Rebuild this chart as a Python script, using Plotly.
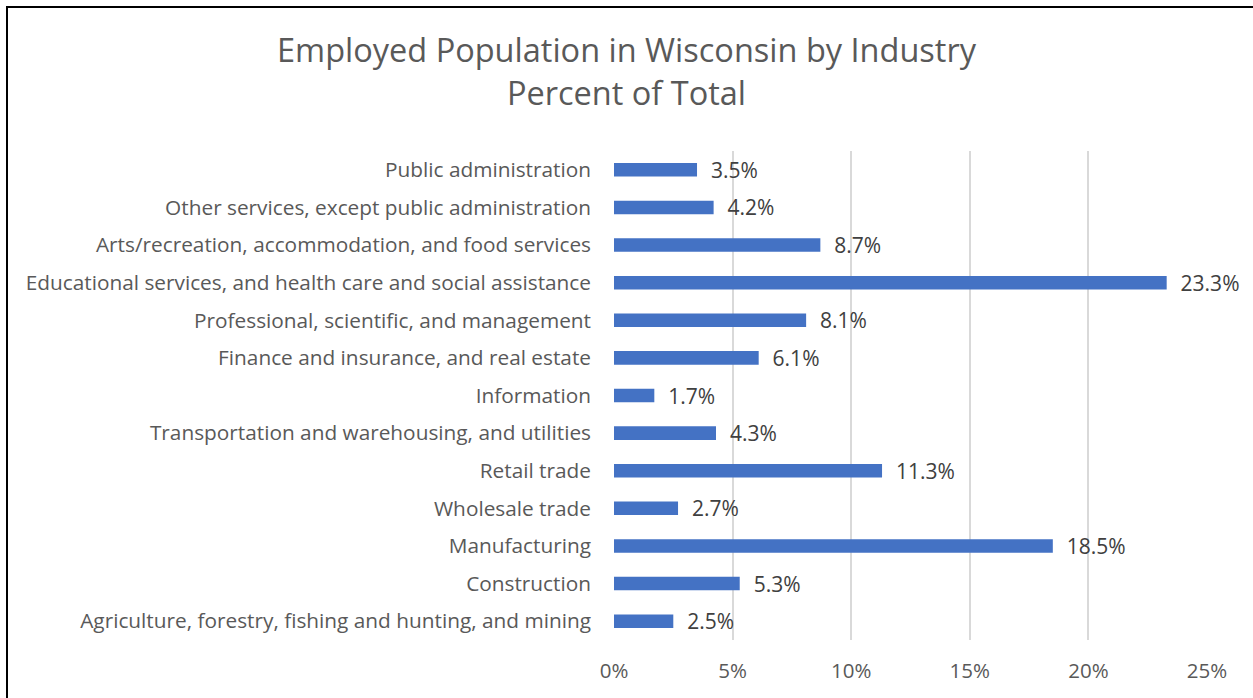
import plotly.graph_objects as go

categories = [
    "Agriculture, forestry, fishing and hunting, and mining",
    "Construction",
    "Manufacturing",
    "Wholesale trade",
    "Retail trade",
    "Transportation and warehousing, and utilities",
    "Information",
    "Finance and insurance, and real estate",
    "Professional, scientific, and management",
    "Educational services, and health care and social assistance",
    "Arts/recreation, accommodation, and food services",
    "Other services, except public administration",
    "Public administration",
]
values = [2.5, 5.3, 18.5, 2.7, 11.3, 4.3, 1.7, 6.1, 8.1, 23.3, 8.7, 4.2, 3.5]
x_ticks = [0, 5, 10, 15, 20, 25]
x_tick_labels = ["0%", "5%", "10%", "15%", "20%", "25%"]

W, H = 1253, 698
ML, MR, MT, MB = 614, 46, 151, 58
FONT = "Open Sans"

fig = go.Figure(go.Bar(
    x=values, y=categories, orientation="h",
    marker=dict(color="#4472C4", line=dict(width=0)),
    width=0.36,
    text=["\u00a0\u00a0" + f"{v:.1f}%" for v in values],
    textposition="outside",
    constraintext="none",
    textfont=dict(family=FONT, size=21, color="#404040"),
    cliponaxis=False,
))

def px_to_paper_x(px):
    return (px - ML) / (W - ML - MR)

def px_to_paper_y(py):
    return (H - MB - py) / (H - MT - MB)

fig.update_layout(
    width=W, height=H,
    margin=dict(l=ML, r=MR, t=MT, b=MB),
    paper_bgcolor="white", plot_bgcolor="white",
    title=dict(
        text="Employed Population in Wisconsin by Industry<br>Percent of Total",
        x=0.5, xanchor="center", xref="container", y=0.9105, yanchor="middle", yref="container",
        font=dict(family=FONT, size=32.5, color="#595959"),
    ),
    showlegend=False,
    xaxis=dict(
        range=[0, 25], tickvals=x_ticks, ticktext=x_tick_labels,
        showgrid=True, gridcolor="#D9D9D9", gridwidth=1.5,
        zeroline=False, showline=False, ticks="",
        tickfont=dict(family=FONT, size=20.5, color="#595959"),
        ticklabelstandoff=16,
    ),
    yaxis=dict(
        categoryorder="array", categoryarray=categories,
        showgrid=False, zeroline=False, showline=False, ticks="",
        tickfont=dict(family=FONT, size=20.8, color="#595959"),
        ticklabelstandoff=22,
    ),
    shapes=[
        dict(type="line", xref="paper", yref="paper",
             x0=px_to_paper_x(7), x1=px_to_paper_x(7),
             y0=px_to_paper_y(6), y1=px_to_paper_y(H + 5),
             line=dict(color="black", width=2)),
        dict(type="line", xref="paper", yref="paper",
             x0=px_to_paper_x(6), x1=px_to_paper_x(W + 5),
             y0=px_to_paper_y(7), y1=px_to_paper_y(7),
             line=dict(color="black", width=2)),
    ],
)
fig.write_html(
    "out.html",
    config={"displayModeBar": False},
    post_script="document.body.style.margin='0';document.body.style.overflow='hidden';",
)
